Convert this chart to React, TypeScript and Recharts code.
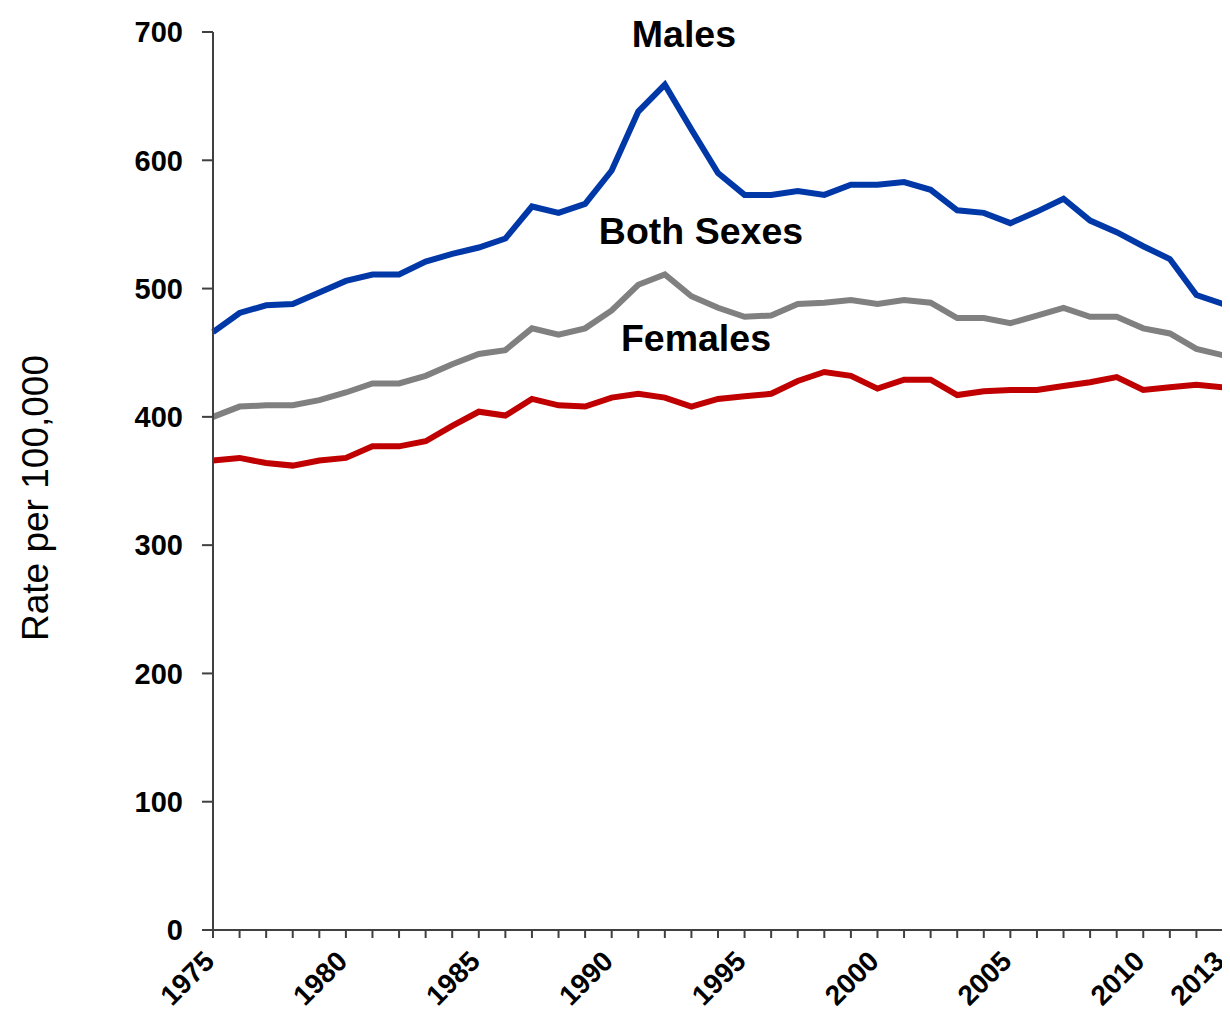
import React from 'react';
import { LineChart, Line, XAxis, YAxis, ReferenceDot, Label } from 'recharts';

const years = [
  1975, 1976, 1977, 1978, 1979, 1980, 1981, 1982, 1983, 1984, 1985, 1986, 1987,
  1988, 1989, 1990, 1991, 1992, 1993, 1994, 1995, 1996, 1997, 1998, 1999, 2000,
  2001, 2002, 2003, 2004, 2005, 2006, 2007, 2008, 2009, 2010, 2011, 2012, 2013,
];
const males = [
  466, 481, 487, 488, 497, 506, 511, 511, 521, 527, 532, 539, 564, 559, 566, 592,
  638, 659, 624, 590, 573, 573, 576, 573, 581, 581, 583, 577, 561, 559, 551, 560,
  570, 553, 544, 533, 523, 495, 488,
];
const bothSexes = [
  400, 408, 409, 409, 413, 419, 426, 426, 432, 441, 449, 452, 469, 464, 469, 483,
  503, 511, 494, 485, 478, 479, 488, 489, 491, 488, 491, 489, 477, 477, 473, 479,
  485, 478, 478, 469, 465, 453, 448,
];
const females = [
  366, 368, 364, 362, 366, 368, 377, 377, 381, 393, 404, 401, 414, 409, 408, 415,
  418, 415, 408, 414, 416, 418, 428, 435, 432, 422, 429, 429, 417, 420, 421, 421,
  424, 427, 431, 421, 423, 425, 423,
];
const labeledYears = [1975, 1980, 1985, 1990, 1995, 2000, 2005, 2010, 2013];
const yTicks = [0, 100, 200, 300, 400, 500, 600, 700];

const annotationNames = ['Males', 'Both Sexes', 'Females'];
const annotationYears = [1992.72, 1993.36, 1993.17];
const annotationValues = [698.4, 544.8, 461.8];

const data = years.map((year, i) => ({
  year,
  males: males[i],
  both: bothSexes[i],
  females: females[i],
}));

const FONT = '"Liberation Sans", Arial, sans-serif';
const AXIS = '#404040';

const XTick = (props: any) => {
  const { x, y, payload } = props;
  if (!labeledYears.includes(payload.value)) return null;
  const ax = x + 3;
  const ay = y + 23;
  return (
    <text
      x={ax}
      y={ay}
      transform={`rotate(-45, ${ax}, ${ay})`}
      textAnchor="end"
      fontFamily={FONT}
      fontWeight="bold"
      fontSize={28}
      fill="#000"
    >
      {payload.value}
    </text>
  );
};

const YTitle = (props: any) => {
  const vb = props.viewBox || { x: 0, y: 0, width: 0, height: 0 };
  const cx = vb.x + 27;
  const cy = vb.y + vb.height / 2 + 17;
  return (
    <text
      x={cx}
      y={cy}
      transform={`rotate(-90, ${cx}, ${cy})`}
      textAnchor="middle"
      dominantBaseline="central"
      fontFamily={FONT}
      fontSize={37}
      fill="#000"
    >
      Rate per 100,000
    </text>
  );
};

export default function App() {
  return (
    <div style={{ width: 1222, height: 1011 }}>
      <LineChart
        width={1222}
        height={1011}
        data={data}
        margin={{ top: 24, right: 7, bottom: 0, left: 0 }}
      >
        <XAxis
          dataKey="year"
          type="number"
          domain={[1975, 2013]}
          ticks={years}
          interval={0}
          height={89}
          tick={<XTick />}
          tickSize={8}
          axisLine={{ stroke: AXIS, strokeWidth: 2 }}
          tickLine={{ stroke: AXIS, strokeWidth: 2 }}
        />
        <YAxis
          type="number"
          domain={[0, 700]}
          ticks={yTicks}
          interval={0}
          width={205}
          tickSize={11}
          tickMargin={19}
          axisLine={{ stroke: AXIS, strokeWidth: 2 }}
          tickLine={{ stroke: AXIS, strokeWidth: 2 }}
          tick={{ fill: '#000', fontSize: 29, fontWeight: 'bold', fontFamily: FONT }}
          label={<YTitle />}
        />
        <Line
          dataKey="males"
          stroke="#0038A8"
          strokeWidth={6}
          dot={false}
          isAnimationActive={false}
        />
        <Line
          dataKey="both"
          stroke="#808080"
          strokeWidth={6}
          dot={false}
          isAnimationActive={false}
        />
        <Line
          dataKey="females"
          stroke="#C00000"
          strokeWidth={6}
          dot={false}
          isAnimationActive={false}
        />
        {annotationNames.map((name, i) => (
          <ReferenceDot
            key={name}
            x={annotationYears[i]}
            y={annotationValues[i]}
            r={0}
            stroke="none"
            fill="none"
            ifOverflow="visible"
          >
            <Label
              value={name}
              position="center"
              fill="#000"
              fontSize={37.5}
              fontWeight="bold"
              fontFamily={FONT}
            />
          </ReferenceDot>
        ))}
      </LineChart>
    </div>
  );
}
